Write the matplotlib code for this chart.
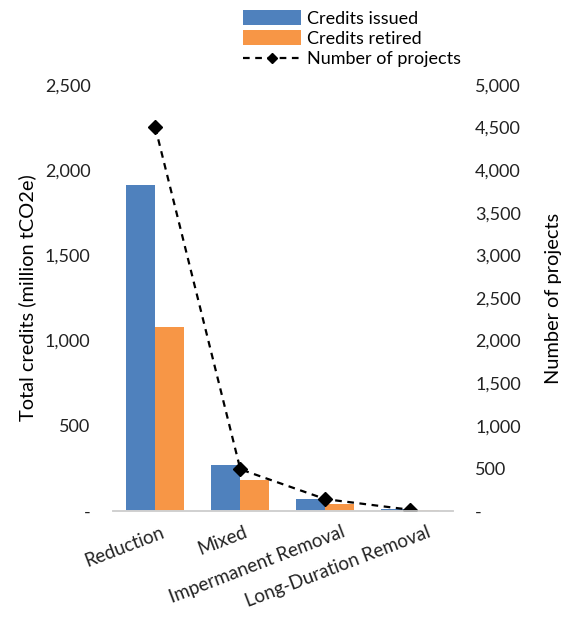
import numpy as np
import matplotlib.pyplot as plt
from matplotlib.ticker import FuncFormatter
from matplotlib.transforms import ScaledTranslation

plt.rcParams['font.family'] = ['Lato', 'DejaVu Sans']

categories = ["Reduction", "Mixed", "Impermanent Removal", "Long-Duration Removal"]
issued = [1915, 270, 70, 12]
retired = [1078, 180, 41, 4]
projects = [4500, 490, 140, 15]

blue = "#4f81bd"
orange = "#f79646"


def fmt(v, pos):
    # zero shown as a dash, like accounting format
    if v == 0:
        return "-"
    return f"{int(v):,}"


fig = plt.figure(figsize=(5.64, 6.24), dpi=100)
ax = fig.add_axes([0.2, 0.181, 0.603, 0.683])
ax2 = ax.twinx()

x = np.arange(len(categories))
w = 0.34
ax.bar(x - w / 2, issued, w, color=blue, label="Credits issued")
ax.bar(x + w / 2, retired, w, color=orange, label="Credits retired")
ax2.plot(x, projects, color="black", linestyle=(0, (3, 2.5)), linewidth=1.6,
         marker="D", markersize=7, label="Number of projects")

ax.set_xlim(-0.5, 3.5)
ax.set_ylim(0, 2500)
ax2.set_ylim(0, 5000)
ax.set_yticks(np.arange(0, 2501, 500))
ax2.set_yticks(np.arange(0, 5001, 500))
ax.yaxis.set_major_formatter(FuncFormatter(fmt))
ax2.yaxis.set_major_formatter(FuncFormatter(fmt))

for a in (ax, ax2):
    for s in ("top", "left", "right"):
        a.spines[s].set_visible(False)
    a.spines["bottom"].set_color("#d0d0d0")
    a.spines["bottom"].set_linewidth(1.2)
    a.tick_params(length=0, labelsize=13, colors="#222222")

ax.tick_params(axis="y", pad=16)
ax2.tick_params(axis="y", pad=16)
ax.set_xticks(x)
ax.set_xticklabels(categories, rotation=21, ha="right", rotation_mode="anchor",
                   fontsize=13.5)
ax.tick_params(axis="x", pad=9)
# nudge the slanted labels a little to the right
for lbl, dx in zip(ax.get_xticklabels(), [5, 3, 16, 16]):
    lbl.set_transform(lbl.get_transform() + ScaledTranslation(dx / 100, 0, fig.dpi_scale_trans))

ax.set_ylabel("Total credits (million tCO2e)", fontsize=14.4, labelpad=6)
ax2.set_ylabel("Number of projects", fontsize=14.4, labelpad=17)

h1, l1 = ax.get_legend_handles_labels()
h2, l2 = ax2.get_legend_handles_labels()
fig.legend(h1 + h2, l1 + l2, loc="upper left", bbox_to_anchor=(243 / 564, 1 - 10 / 624),
           frameon=False, fontsize=13, handlelength=3.2, handleheight=0.9,
           labelspacing=0.2, borderaxespad=0, borderpad=0, handletextpad=0.35,
           markerscale=0.75)

fig.savefig("out.png", dpi=100)
